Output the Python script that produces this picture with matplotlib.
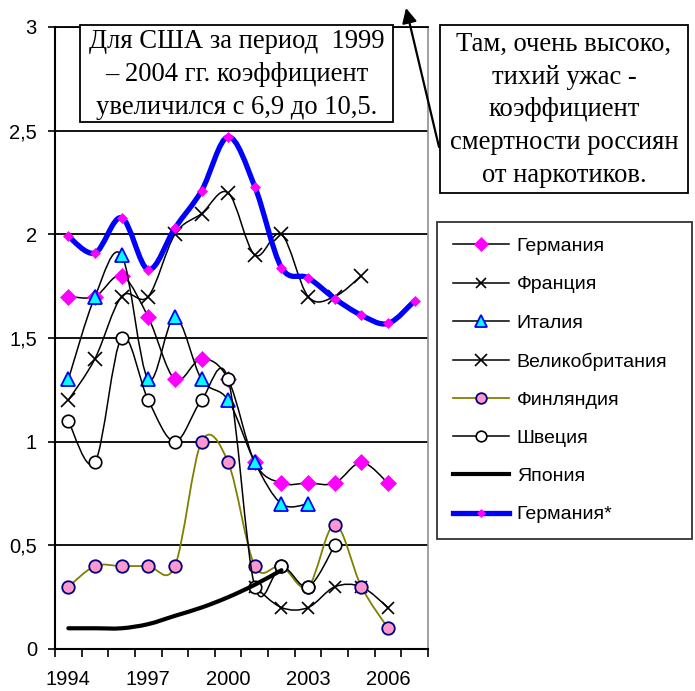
import matplotlib
matplotlib.use('Agg')
import matplotlib.pyplot as plt
from matplotlib.path import Path
from matplotlib.patches import PathPatch, Rectangle, FancyArrowPatch
from matplotlib.lines import Line2D
import numpy as np

# ---------------- data ----------------
years = [1994, 1995, 1996, 1997, 1998, 1999, 2000, 2001, 2002, 2003, 2004, 2005, 2006, 2007]
year_labels = ['1994', '1997', '2000', '2003', '2006']
y_ticks = [0, 0.5, 1, 1.5, 2, 2.5, 3]
y_tick_labels = ['0', '0,5', '1', '1,5', '2', '2,5', '3']

germany = [1.7, 1.7, 1.8, 1.6, 1.3, 1.4, 1.3, 0.9, 0.8, 0.8, 0.8, 0.9, 0.8, None]
france = [None, None, None, None, None, None, None, 0.3, 0.2, 0.2, 0.3, 0.3, 0.2, None]
italy = [1.3, 1.7, 1.9, 1.3, 1.6, 1.3, 1.2, 0.9, 0.7, 0.7, None, None, None, None]
uk = [1.2, 1.4, 1.7, 1.7, 2.0, 2.1, 2.2, 1.9, 2.0, 1.7, 1.7, 1.8, None, None]
finland = [0.3, 0.4, 0.4, 0.4, 0.4, 1.0, 0.9, 0.4, 0.4, 0.3, 0.6, 0.3, 0.1, None]
sweden = [1.1, 0.9, 1.5, 1.2, 1.0, 1.2, 1.3, 0.3, 0.4, 0.3, 0.5, None, None, None]
japan = [0.1, 0.1, 0.1, 0.12, 0.16, 0.2, 0.25, 0.31, 0.38, None, None, None, None, None]
germany_star = [1.99, 1.91, 2.08, 1.83, 2.03, 2.21, 2.47, 2.23, 1.84, 1.79, 1.69, 1.61, 1.57, 1.68]

names = ['Германия', 'Франция', 'Италия', 'Великобритания', 'Финляндия', 'Швеция', 'Япония', 'Германия*']

note_usa = 'Для США за период  1999\n– 2004 гг. коэффициент\nувеличился с 6,9 до 10,5.'
note_rus = 'Там, очень высоко,\nтихий ужас -\nкоэффициент\nсмертности россиян\nот наркотиков.'

# ---------------- styles ----------------
series = [germany, france, italy, uk, finland, sweden, japan, germany_star]
line_styles = [
    dict(color='black', lw=1.1),
    dict(color='black', lw=1.1),
    dict(color='black', lw=1.1),
    dict(color='black', lw=1.1),
    dict(color='#808000', lw=1.3),
    dict(color='black', lw=1.1),
    dict(color='black', lw=3.0),
    dict(color='#0000FF', lw=3.8),
]
marker_styles = [
    dict(marker='D', ms=8.5, mfc='#FF00FF', mec='#FF00FF', mew=0.5),
    dict(marker='x', ms=9, mfc='none', mec='black', mew=1.2),
    dict(marker='^', ms=10, mfc='#00FFFF', mec='#0000FF', mew=1.3),
    dict(marker='x', ms=10, mfc='none', mec='black', mew=1.2),
    dict(marker='o', ms=9, mfc='#FF99CC', mec='#000080', mew=1.3),
    dict(marker='o', ms=9, mfc='white', mec='black', mew=1.2),
    dict(marker=None),
    dict(marker='D', ms=5, mfc='#FF00FF', mec='#FF00FF', mew=0.5),
]

W, H = 695, 691
fig = plt.figure(figsize=(W / 100, H / 100), dpi=100)
ax = fig.add_axes([55 / W, 1 - 649 / H, (428 - 55) / W, (649 - 27) / H])


def fx(px):
    return px / W


def fy(py):
    return 1 - py / H


def smooth_path(xs, ys):
    pts = np.column_stack([xs, ys]).astype(float)
    n = len(pts)
    verts = [pts[0]]
    codes = [Path.MOVETO]
    for i in range(n - 1):
        p0 = pts[i - 1] if i > 0 else pts[i]
        p1 = pts[i]
        p2 = pts[i + 1]
        p3 = pts[i + 2] if i + 2 < n else pts[i + 1]
        c1 = p1 + (p2 - p0) / 6.0
        c2 = p2 - (p3 - p1) / 6.0
        verts += [c1, c2, p2]
        codes += [Path.CURVE4] * 3
    return Path(verts, codes)


xpos = np.arange(len(years))
for k, (vals, ls, ms) in enumerate(zip(series, line_styles, marker_styles)):
    idx = [i for i, v in enumerate(vals) if v is not None]
    xs = xpos[idx]
    ys = [vals[i] for i in idx]
    patch = PathPatch(smooth_path(xs, ys), fill=False, edgecolor=ls['color'],
                      lw=ls['lw'], capstyle='round', joinstyle='round',
                      zorder=3 + k * 0.1)
    ax.add_patch(patch)
    if ms.get('marker'):
        ax.plot(xs, ys, linestyle='none', zorder=3 + k * 0.1 + 0.05, clip_on=False, **ms)

# axes
ax.set_xlim(-0.5, len(years) - 0.5)
ax.set_ylim(0, 3)
ax.set_xticks(np.arange(-0.5, len(years), 1.0))
ax.set_xticklabels([])
ax.set_xticks([years.index(int(y)) for y in year_labels], minor=True)
ax.set_xticklabels(year_labels, minor=True)
ax.tick_params(axis='x', which='major', direction='out', length=6, width=1.2, color='black')
ax.tick_params(axis='x', which='minor', length=0, pad=15, labelsize=14.5)
ax.set_yticks(y_ticks)
ax.set_yticklabels(y_tick_labels)
ax.tick_params(axis='y', direction='out', length=5, width=1.2, pad=8, labelsize=14.5)
for lab in ax.get_xticklabels(minor=True) + ax.get_yticklabels():
    lab.set_fontfamily('Liberation Sans')

ax.yaxis.grid(True, color='black', lw=1.3)
ax.set_axisbelow(True)
ax.spines['left'].set_linewidth(1.5)
ax.spines['bottom'].set_linewidth(1.5)
ax.spines['top'].set_linewidth(1.3)
ax.spines['right'].set_color('#909090')
ax.spines['right'].set_linewidth(1.2)

# legend
handles = []
for ls, ms in zip(line_styles, marker_styles):
    kw = dict(ms)
    if kw.get('marker'):
        kw['ms'] = kw['ms'] * 0.85
    handles.append(Line2D([], [], color=ls['color'], lw=ls['lw'], **kw))
leg = fig.legend(handles, names, loc='upper left',
                 bbox_to_anchor=(fx(437), fy(535), fx(692) - fx(437), fy(222) - fy(535)),
                 mode='expand', frameon=True, fancybox=False, borderaxespad=0,
                 prop=dict(family='Liberation Sans', size=14),
                 handlelength=2.9, handletextpad=0.4, labelspacing=1.06, borderpad=0.8)
leg.get_frame().set_edgecolor('black')
leg.get_frame().set_linewidth(1.3)

# note boxes
for (x0, y0, x1, y1, txt) in [(80, 25, 393, 122, note_usa), (440, 25, 688, 193, note_rus)]:
    fig.add_artist(Rectangle((fx(x0), fy(y1)), fx(x1) - fx(x0), fy(y0) - fy(y1),
                             transform=fig.transFigure, facecolor='white',
                             edgecolor='black', lw=1.3, zorder=5))
    fig.text(fx((x0 + x1) / 2), fy((y0 + y1) / 2 + 1), txt, ha='center', va='center',
             family='Liberation Serif', size=19.2, linespacing=1.4, zorder=6)

# arrow
fig.add_artist(FancyArrowPatch((fx(439), fy(147)), (fx(406), fy(8)),
                               transform=fig.transFigure, arrowstyle='-|>',
                               mutation_scale=22, lw=1.6, color='black',
                               shrinkA=0, shrinkB=0, zorder=7))

fig.savefig('out.png', dpi=100)
